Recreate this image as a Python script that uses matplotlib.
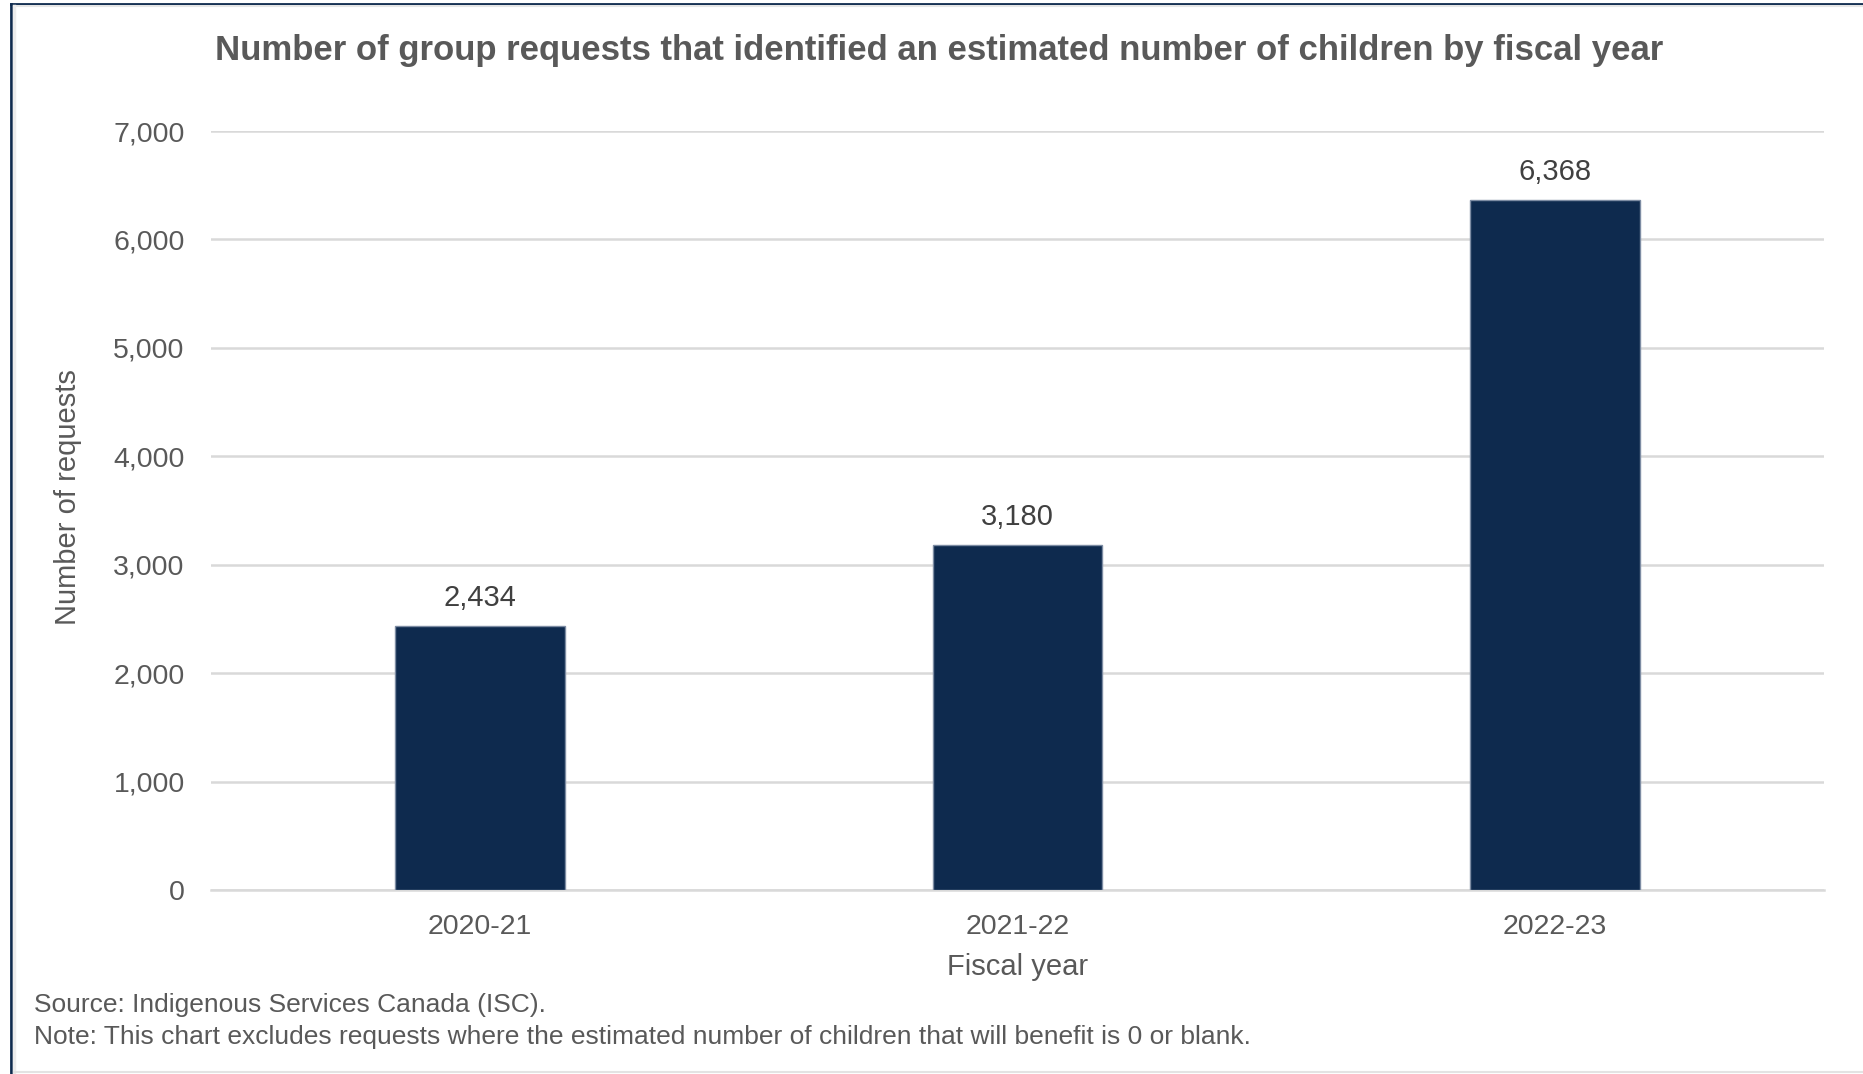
import numpy as np
import matplotlib
matplotlib.use("Agg")
import matplotlib.pyplot as plt
from matplotlib.lines import Line2D

plt.rcParams['font.family'] = ['Liberation Sans', 'DejaVu Sans']

# data
years = ["2020-21", "2021-22", "2022-23"]
requests = [2434, 3180, 6368]
yticks = [0, 1000, 2000, 3000, 4000, 5000, 6000, 7000]

navy = '#0e2a4e'
grey_txt = '#595959'
grid_c = '#d9d9d9'

fig = plt.figure(figsize=(18.63, 10.74), dpi=100)
ax = fig.add_axes([0.1133, 0.1713, 0.8657, 0.7067])

x = np.arange(len(years))
bars = ax.bar(x, requests, width=0.315, color=navy, edgecolor='#7d8ca3',
              linewidth=1.0, zorder=3)

for b, v in zip(bars, requests):
    ax.annotate(f"{v:,}", (b.get_x() + b.get_width() / 2, v),
                xytext=(0, 20), textcoords='offset points',
                ha='center', va='center', fontsize=21, color='#404040')

ax.set_xlim(-0.5, 2.5)
ax.set_ylim(0, 7000)
ax.set_xticks(x)
ax.set_xticklabels(years)
ax.set_yticks(yticks)
ax.set_yticklabels([f"{t:,}" for t in yticks])
ax.tick_params(axis='both', length=0, labelsize=20.5, labelcolor=grey_txt)
ax.tick_params(axis='x', pad=17)
ax.tick_params(axis='y', pad=19)

ax.yaxis.grid(True, color=grid_c, linewidth=1.8, zorder=0)
ax.set_axisbelow(True)
for s in ['top', 'right', 'left']:
    ax.spines[s].set_visible(False)
ax.spines['bottom'].set_color(grid_c)
ax.spines['bottom'].set_linewidth(1.8)

ax.set_xlabel("Fiscal year", fontsize=21, color=grey_txt, va='center')
ax.xaxis.set_label_coords(0.5, -0.1014)
ax.set_ylabel("Number of requests", fontsize=21, color=grey_txt, va='center')
ax.yaxis.set_label_coords(-0.0887, 0.518)

fig.text(0.504, 0.953, "Number of group requests that identified an estimated number of children by fiscal year",
         ha='center', va='center', fontsize=25, fontweight='bold', color=grey_txt)

fig.text(0.018, 0.064, "Source: Indigenous Services Canada (ISC).",
         ha='left', va='center', fontsize=19, color=grey_txt)
fig.text(0.018, 0.034, "Note: This chart excludes requests where the estimated number of children that will benefit is 0 or blank.",
         ha='left', va='center', fontsize=19, color=grey_txt)

# frame around the picture
fig.add_artist(Line2D([0.0059, 1.0], [0.9963, 0.9963], color='#0e2a4e', lw=2.0, transform=fig.transFigure))
fig.add_artist(Line2D([0.0059, 0.0059], [0.0, 0.9963], color='#0e2a4e', lw=2.0, transform=fig.transFigure))
fig.add_artist(Line2D([0.0075, 1.0], [0.9940, 0.9940], color='#e6e6e6', lw=1.5, transform=fig.transFigure))
fig.add_artist(Line2D([0.0075, 0.0075], [0.002, 0.994], color='#ececec', lw=2.5, transform=fig.transFigure))
fig.add_artist(Line2D([0.0075, 1.0], [0.002, 0.002], color='#e3e3e3', lw=1.5, transform=fig.transFigure))

fig.savefig("out.png", dpi=100)
